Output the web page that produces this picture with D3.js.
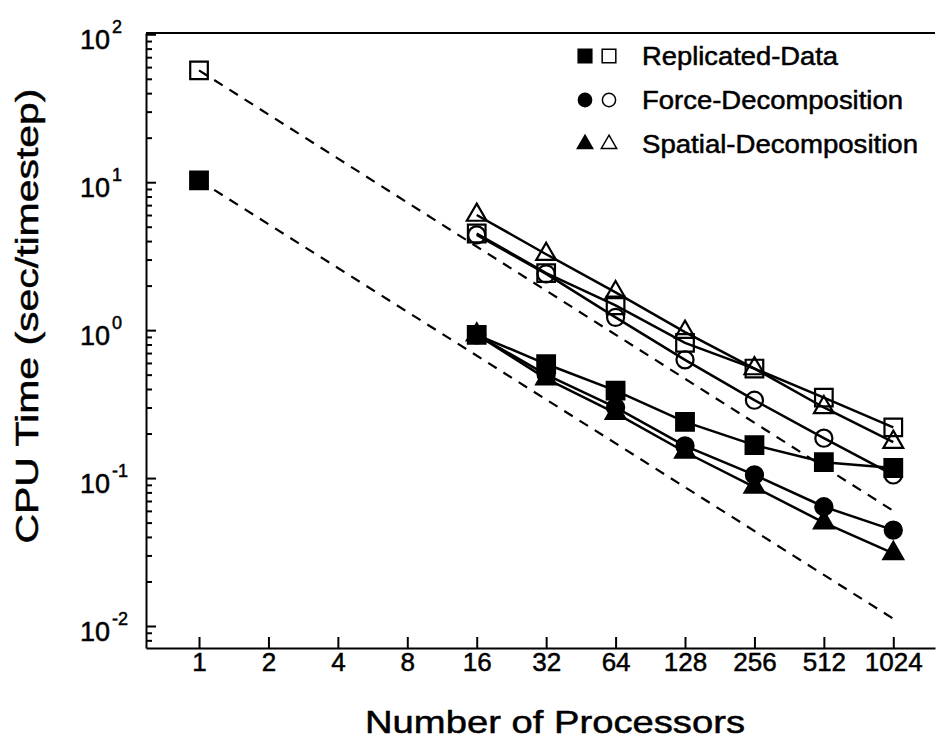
<!DOCTYPE html>
<html>
<head>
<meta charset="utf-8">
<script src="https://cdn.jsdelivr.net/npm/d3@7"></script>
<style>
  body { margin: 0; background: #fff; }
  text { font-family: "Liberation Sans", Arial, Helvetica, sans-serif; fill: #000; stroke: #000; stroke-width: 0.5px; }
</style>
</head>
<body>
<script>
// processor counts on the x axis
var procTicks = [1, 2, 4, 8, 16, 32, 64, 128, 256, 512, 1024];
var procs = [16, 32, 64, 128, 256, 512, 1024];

// y decades and their exponent labels
var decades = [0.01, 0.1, 1, 10, 100];
var expLabels = ['-2', '-1', '0', '1', '2'];

// single processor timings (squares only)
var singleOpen = 57;
var singleFilled = 10.3;

// open symbols (larger system)
var rdOpen = [4.5, 2.43, 1.47, 0.82, 0.55, 0.35, 0.22];
var fdOpen = [4.4, 2.4, 1.22, 0.63, 0.336, 0.186, 0.105];
var sdOpen = [6.0, 3.26, 1.8, 0.97, 0.55, 0.30, 0.175];

// filled symbols (smaller system)
var rdFilled = [0.93, 0.59, 0.39, 0.24, 0.167, 0.128, 0.117];
var fdFilled = [0.93, 0.5, 0.30, 0.165, 0.105, 0.064, 0.0445];
var sdFilled = [0.93, 0.47, 0.275, 0.15, 0.087, 0.05, 0.031];

// dashed ideal-speedup lines (end points)
var idealOpen = [[1, 57], [1024, 0.06]];
var idealFilled = [[1, 10.3], [1024, 0.0112]];

var legendNames = ['Replicated-Data', 'Force-Decomposition', 'Spatial-Decomposition'];

var svgWidth = 940;
var svgHeight = 739;

var svg = d3.select("body")
  .append("svg")
  .attr("width", svgWidth)
  .attr("height", svgHeight);

// scales
var xScale = d3.scaleLog().base(2)
  .domain([0.589, 1553])
  .range([146, 935]);
var yScale = d3.scaleLog()
  .domain([0.0071, 102])
  .range([648, 33]);

// top border
svg.append('line')
  .attr('x1', 146).attr('x2', 935)
  .attr('y1', 33).attr('y2', 33)
  .attr('stroke', '#000').attr('stroke-width', 2);

// x axis, ticks point up into the plot
var xAxis = svg.append('g')
  .attr('transform', 'translate(0, 648)')
  .call(d3.axisBottom(xScale)
    .tickValues(procTicks)
    .tickFormat(d3.format('d'))
    .tickSizeInner(-11)
    .tickSizeOuter(0)
    .tickPadding(5));
xAxis.select('.domain').attr('stroke-width', 2);
xAxis.selectAll('.tick line').attr('stroke-width', 2);
xAxis.selectAll('.tick text')
  .style('font-size', '26px')
  .style('font-family', '"Liberation Sans", Arial, sans-serif');

// y axis, minor ticks inside
var yAxis = svg.append('g')
  .attr('transform', 'translate(146, 0)')
  .call(d3.axisRight(yScale)
    .tickValues(yScale.ticks())
    .tickFormat('')
    .tickSizeInner(6)
    .tickSizeOuter(0));
yAxis.select('.domain').attr('stroke-width', 2);
yAxis.selectAll('.tick line')
  .attr('stroke-width', 2)
  .attr('x2', d => decades.indexOf(d) >= 0 ? 10 : 6);

// y tick labels: 10 with superscript exponent
decades.forEach(function (d, i) {
  var y = yScale(d);
  svg.append('text')
    .attr('x', 110).attr('y', y + 15)
    .attr('text-anchor', 'end')
    .style('font-size', '27px')
    .text('10');
  svg.append('text')
    .attr('x', 112).attr('y', y - 1)
    .style('font-size', '18px')
    .text(expLabels[i]);
});

// axis titles
svg.append('text')
  .attr('x', 555).attr('y', 733)
  .attr('text-anchor', 'middle')
  .attr('textLength', 380)
  .attr('lengthAdjust', 'spacingAndGlyphs')
  .style('font-size', '32px')
  .text('Number of Processors');

svg.append('text')
  .attr('transform', 'translate(38, 316) rotate(-90)')
  .attr('text-anchor', 'middle')
  .attr('textLength', 455)
  .attr('lengthAdjust', 'spacingAndGlyphs')
  .style('font-size', '32px')
  .text('CPU Time (sec/timestep)');

// ideal scaling dashed lines
var line = d3.line()
  .x(d => xScale(d[0]))
  .y(d => yScale(d[1]));

[idealOpen, idealFilled].forEach(function (pts) {
  svg.append('path')
    .datum(pts)
    .attr('fill', 'none')
    .attr('stroke', '#000')
    .attr('stroke-width', 2.2)
    .attr('stroke-dasharray', '10,8')
    .attr('d', line);
});

var symSize = { square: 310, circle: 230, triangle: 170 };
var symType = { square: d3.symbolSquare, circle: d3.symbolCircle, triangle: d3.symbolTriangle };

function drawSeries(vals, shape, filled, single) {
  var pts = procs.map((p, i) => [p, vals[i]]);
  svg.append('path')
    .datum(pts)
    .attr('fill', 'none')
    .attr('stroke', '#000')
    .attr('stroke-width', 2.5)
    .attr('d', line);
  if (single != null) pts = [[1, single]].concat(pts);
  svg.selectAll(null)
    .data(pts)
    .enter()
    .append('path')
    .attr('transform', d => `translate(${xScale(d[0])}, ${yScale(d[1])})`)
    .attr('d', d3.symbol().type(symType[shape]).size(symSize[shape]))
    .attr('fill', filled ? '#000' : 'none')
    .attr('stroke', '#000')
    .attr('stroke-width', 2.2);
}

drawSeries(rdOpen, 'square', false, singleOpen);
drawSeries(fdOpen, 'circle', false);
drawSeries(sdOpen, 'triangle', false);
drawSeries(rdFilled, 'square', true, singleFilled);
drawSeries(fdFilled, 'circle', true);
drawSeries(sdFilled, 'triangle', true);

// legend
var legendShapes = ['square', 'circle', 'triangle'];
var legendLen = [196, 261, 276];
legendNames.forEach(function (name, i) {
  var y = 56 + i * 44;
  var shape = legendShapes[i];
  var sz = symSize[shape] * 0.6;
  svg.append('path')
    .attr('transform', `translate(585, ${y})`)
    .attr('d', d3.symbol().type(symType[shape]).size(sz))
    .attr('fill', '#000').attr('stroke', '#000').attr('stroke-width', 1.5);
  svg.append('path')
    .attr('transform', `translate(609, ${y})`)
    .attr('d', d3.symbol().type(symType[shape]).size(sz))
    .attr('fill', 'none').attr('stroke', '#000').attr('stroke-width', 1.5);
  svg.append('text')
    .attr('x', 642).attr('y', y + 9)
    .attr('textLength', legendLen[i])
    .attr('lengthAdjust', 'spacingAndGlyphs')
    .style('font-size', '25px')
    .text(name);
});
</script>
</body>
</html>
